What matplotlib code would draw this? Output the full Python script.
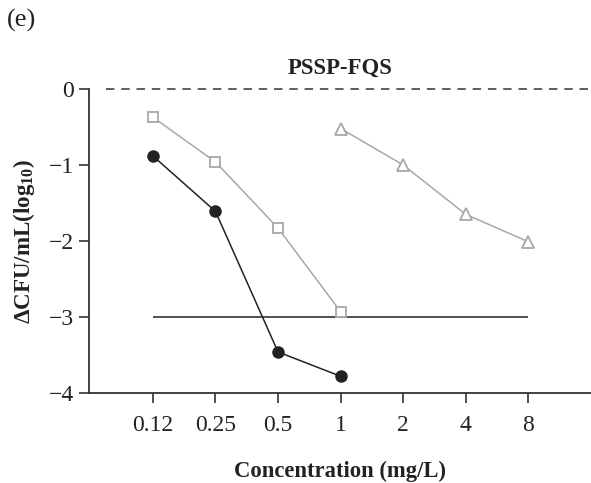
import matplotlib
matplotlib.use("Agg")
import matplotlib.pyplot as plt
import numpy as np

# concentrations shown as equally spaced categories
conc_labels = ["0.12", "0.25", "0.5", "1", "2", "4", "8"]

# filled circles (black)
circle_idx = [0, 1, 2, 3]
circle_vals = [-0.88, -1.61, -3.46, -3.78]

# open squares (gray)
square_idx = [0, 1, 2, 3]
square_vals = [-0.37, -0.96, -1.83, -2.93]

# open triangles (gray)
tri_idx = [3, 4, 5, 6]
tri_vals = [-0.52, -1.00, -1.65, -2.01]

threshold = -3

plt.rcParams["font.family"] = ["Liberation Serif", "DejaVu Serif"]
plt.rcParams["mathtext.fontset"] = "custom"
plt.rcParams["mathtext.rm"] = "Liberation Serif"
plt.rcParams["mathtext.bf"] = "Liberation Serif:bold"

fig = plt.figure(figsize=(5.91, 4.83), dpi=100)
ax = fig.add_axes([89 / 591, 1 - 393 / 483, 1 - 89 / 591, (393 - 89) / 483])

gray = "#a8a8a8"
dark = "#222222"

x = np.arange(len(conc_labels))

ax.hlines(0, -0.75, 7.0, colors="#333333", linestyles=(0, (5.5, 4.5)), lw=1.1, clip_on=False)
ax.hlines(threshold, x[0], x[-1], colors="#333333", lw=1.2)

ax.plot(square_idx, square_vals, color=gray, lw=1.1, marker="s", ms=7,
        mfc="white", mec=gray, mew=1.3)
ax.plot(tri_idx, tri_vals, color=gray, lw=1.1, marker="^", ms=9,
        mfc="white", mec=gray, mew=1.3)
ax.plot(circle_idx, circle_vals, color=dark, lw=1.1, marker="o", ms=8,
        mfc=dark, mec=dark)

ax.set_xlim(-1.02, 7.0)
ax.set_ylim(-4, 0)
ax.set_xticks(x)
ax.set_xticklabels(conc_labels)
ax.set_yticks([0, -1, -2, -3, -4])
ax.set_yticklabels(["0", "\u22121", "\u22122", "\u22123", "\u22124"])

for s in ["top", "right"]:
    ax.spines[s].set_visible(False)
for s in ["left", "bottom"]:
    ax.spines[s].set_color("#333333")
    ax.spines[s].set_linewidth(1.3)
ax.tick_params(direction="out", length=7, width=1.2, color="#333333",
               labelsize=17, labelcolor="#222222")
ax.tick_params(axis="x", pad=9)
ax.tick_params(axis="y", pad=4)

ax.set_xlabel("Concentration (mg/L)", fontsize=16.3, fontweight="bold",
              color="#222222", labelpad=18)
ax.set_ylabel(r"$\mathbf{\Delta CFU/mL(log_{10})}$", fontsize=16.6,
              color="#222222", labelpad=8)
ax.set_title("PSSP-FQS", fontsize=16.4, fontweight="bold", color="#222222", pad=11)

fig.text(7 / 591, 1 - 20 / 483, "(e)", fontsize=19, color="#222222",
         va="center", ha="left")

fig.savefig("out.png", dpi=100)
